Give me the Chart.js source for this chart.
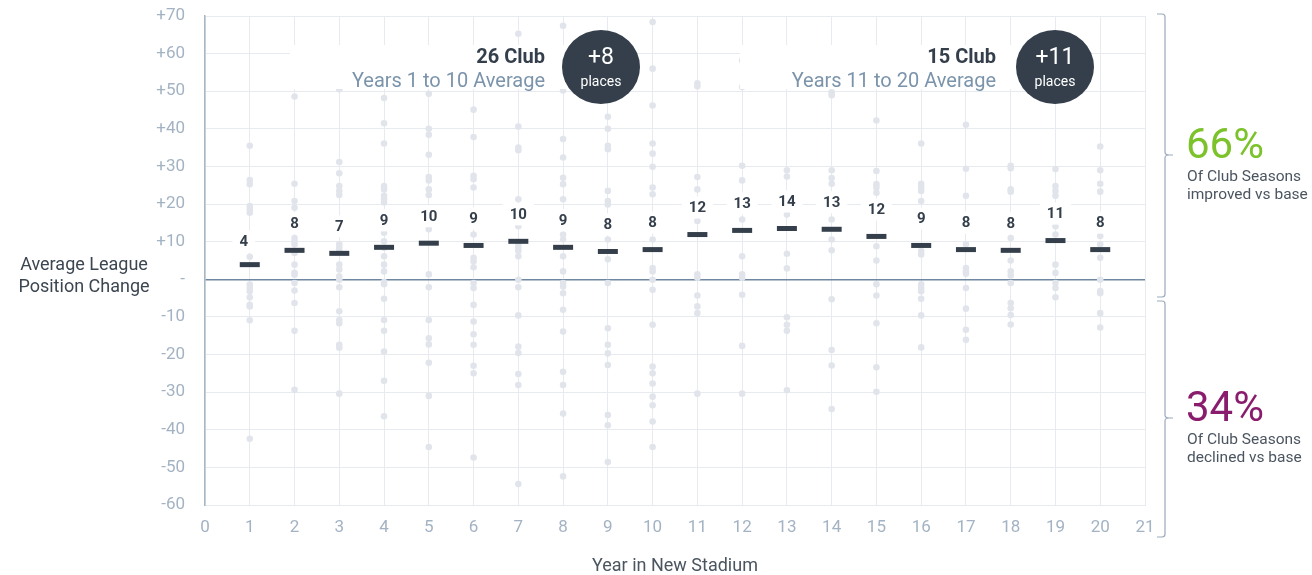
<!DOCTYPE html>
<html lang="en">
<head>
<meta charset="UTF-8">
<title>Average League Position Change</title>
<script src="https://cdn.jsdelivr.net/npm/chart.js"></script>
<style>
  body { margin: 0; background: #fff; }
  #wrap { width: 1312px; height: 575px; }
</style>
</head>
<body>
<div id="wrap"><canvas id="stadiumChart" width="1312" height="575"></canvas></div>
<script>
// league position change per club season, by year in new stadium
const y1 = [35.5, 26.4, 25.3, 19.5, 18.6, 17.7, 6.0, -1.4, -2.3, -3.2, -4.8, -6.8, -7.2, -10.9, -42.4];
const y2 = [48.6, 25.4, 20.8, 19.0, 11.0, 10.1, 9.3, 7.0, 3.9, 1.7, 1.2, -1.0, -3.0, -6.3, -13.7, -29.4];
const y3 = [50.5, 31.2, 28.2, 24.8, 23.5, 22.4, 9.3, 8.4, 7.5, 3.9, 2.6, 0.8, -0.1, -2.1, -8.5, -10.8, -11.7, -17.4, -18.2, -30.4];
const y4 = [48.2, 41.5, 36.1, 24.8, 23.9, 22.2, 21.3, 20.4, 12.4, 10.1, 8.4, 6.1, 3.9, 2.1, -0.7, -1.3, -5.2, -10.8, -13.7, -19.2, -27.0, -36.4];
const y5 = [49.3, 40.0, 38.4, 33.1, 27.2, 26.3, 23.9, 22.4, 13.3, 1.3, -2.1, -10.8, -15.7, -17.3, -22.2, -31.0, -44.6];
const y6 = [45.1, 37.8, 27.5, 26.6, 24.4, 11.9, 5.7, 4.8, 3.2, -1.0, -2.3, -6.8, -11.2, -14.6, -17.4, -23.0, -25.0, -47.4];
const y7 = [65.3, 40.6, 35.0, 34.3, 21.3, 14.1, 9.3, 8.4, 7.5, 6.1, -0.1, -2.1, -9.6, -17.9, -19.6, -25.2, -28.1, -54.4];
const y8 = [67.4, 50.2, 37.3, 32.4, 27.0, 25.3, 21.3, 11.9, 10.6, 6.1, 2.1, -1.0, -1.9, -3.7, -8.1, -13.9, -24.6, -28.1, -35.7, -52.4];
const y9 = [43.2, 40.0, 35.5, 34.6, 23.5, 20.8, 19.9, 10.6, 5.3, -1.0, -13.0, -17.4, -19.7, -22.8, -36.1, -38.8, -48.6];
const y10 = [68.4, 56.0, 46.2, 36.1, 33.4, 29.9, 24.4, 22.6, 10.6, 3.0, 2.1, -0.1, -2.8, -12.1, -23.2, -25.0, -27.7, -31.2, -33.5, -37.8, -44.6];
const y11 = [52.1, 51.3, 27.2, 23.9, 15.5, 1.3, 0.4, -4.3, -7.2, -9.0, -30.4];
const y12 = [58.2, 51.1, 30.2, 26.3, 15.9, 6.1, 1.3, 0.4, -4.1, -17.7, -30.4];
const y13 = [29.0, 27.3, 17.2, 6.8, 2.9, -10.1, -12.1, -13.7, -29.5];
const y14 = [49.7, 48.9, 29.0, 26.9, 25.4, 15.9, 10.6, 7.7, -5.3, -18.8, -22.9, -34.5];
const y15 = [42.2, 28.8, 25.3, 24.4, 23.0, 8.8, 5.0, -1.3, -4.3, -11.7, -23.4, -29.9];
const y16 = [36.1, 25.4, 24.4, 23.5, 20.8, 7.5, 6.6, -1.3, -2.3, -3.2, -5.2, -9.6, -18.1];
const y17 = [41.1, 29.4, 22.2, 9.3, 3.0, 2.1, 1.5, -2.3, -7.8, -13.4, -16.1];
const y18 = [30.2, 29.5, 23.9, 23.3, 11.0, 5.0, 2.1, 1.0, -1.0, -6.3, -7.7, -9.5, -12.0];
const y19 = [29.3, 24.8, 23.5, 22.2, 14.1, 11.9, 3.9, 1.7, -1.0, -2.3, -4.8];
const y20 = [35.3, 29.0, 25.4, 23.3, 11.5, 9.3, 5.7, -0.1, -3.1, -3.7, -9.0, -12.8];
const seasonsByYear = [y1, y2, y3, y4, y5, y6, y7, y8, y9, y10, y11, y12, y13, y14, y15, y16, y17, y18, y19, y20];

const years = [1, 2, 3, 4, 5, 6, 7, 8, 9, 10, 11, 12, 13, 14, 15, 16, 17, 18, 19, 20];
const avgChange = [3.9, 7.7, 6.9, 8.5, 9.6, 9.0, 10.1, 8.5, 7.4, 7.9, 11.9, 13.0, 13.5, 13.3, 11.4, 9.0, 7.9, 7.7, 10.3, 7.9];
const avgLabels = ['4', '8', '7', '9', '10', '9', '10', '9', '8', '8', '12', '13', '14', '13', '12', '9', '8', '8', '11', '8'];

const periodClubs = ['26 Club', '15 Club'];
const periodNames = ['Years 1 to 10 Average', 'Years 11 to 20 Average'];
const periodGain = ['+8', '+11'];
const shareImproved = '66%';
const shareDeclined = '34%';

const FONT = 'Roboto, "Liberation Sans", sans-serif';

const seasonPoints = [];
seasonsByYear.forEach((vals, i) => vals.forEach(v => seasonPoints.push({ x: years[i], y: v })));
const avgPoints = years.map((yr, i) => ({ x: yr, y: avgChange[i] }));

// averages labels with white boxes
const avgLabelPlugin = {
    id: 'avgLabels',
    afterDatasetsDraw(chart) {
        const ctx = chart.ctx;
        const xs = chart.scales.x, ys = chart.scales.y;
        ctx.save();
        ctx.font = 'bold 15px ' + FONT;
        ctx.textAlign = 'center';
        ctx.textBaseline = 'middle';
        years.forEach((yr, i) => {
            const px = xs.getPixelForValue(yr) - (i === 0 ? 6 : 0);
            const py = ys.getPixelForValue(avgChange[i]) - (i === 0 ? 23 : 27);
            const w = ctx.measureText(avgLabels[i]).width + 14;
            ctx.fillStyle = '#fff';
            ctx.fillRect(px - w / 2, py - 11, w, 22);
            ctx.fillStyle = '#343f4b';
            ctx.fillText(avgLabels[i], px, py + 1);
        });
        ctx.restore();
    }
};

// period summaries, y title and right hand brackets
const extrasPlugin = {
    id: 'extras',
    afterDatasetsDraw(chart) {
        const ctx = chart.ctx;
        ctx.save();
        const boxes = [[290, 600, 601], [740, 1050, 1055]];
        const textRight = [545, 996];
        boxes.forEach((b, i) => {
            ctx.fillStyle = '#fff';
            ctx.fillRect(b[0], 45, b[1] - b[0], 44);
            ctx.textAlign = 'right';
            ctx.textBaseline = 'middle';
            ctx.fillStyle = '#343f4b';
            ctx.font = 'bold 20px ' + FONT;
            ctx.fillText(periodClubs[i], textRight[i], 58);
            ctx.fillStyle = '#7b94ab';
            ctx.font = '20px ' + FONT;
            ctx.fillText(periodNames[i], textRight[i], 82);
            ctx.fillStyle = '#343f4b';
            ctx.beginPath();
            ctx.ellipse(b[2], 67, 39, 37, 0, 0, Math.PI * 2);
            ctx.fill();
            ctx.fillStyle = '#fff';
            ctx.textAlign = 'center';
            ctx.font = '23px ' + FONT;
            ctx.fillText(periodGain[i], b[2], 58);
            ctx.font = '14px ' + FONT;
            ctx.fillText('places', b[2], 82);
        });
        ctx.restore();
    },
    afterDraw(chart) {
        const ctx = chart.ctx;
        ctx.save();
        ctx.fillStyle = '#3c4650';
        ctx.font = '18px ' + FONT;
        ctx.textAlign = 'center';
        ctx.textBaseline = 'middle';
        ctx.fillText('Average League', 84, 265);
        ctx.fillText('Position Change', 84, 287);

        ctx.strokeStyle = '#9aabbc';
        ctx.lineWidth = 1.2;
        const bracket = (top, mid, bottom) => {
            ctx.beginPath();
            ctx.moveTo(1157, top);
            ctx.lineTo(1162, top);
            ctx.quadraticCurveTo(1165, top, 1165, top + 3);
            ctx.lineTo(1165, mid - 3);
            ctx.quadraticCurveTo(1165, mid, 1169, mid);
            ctx.lineTo(1173, mid);
            ctx.moveTo(1169, mid);
            ctx.quadraticCurveTo(1165, mid, 1165, mid + 3);
            ctx.lineTo(1165, bottom - 3);
            ctx.quadraticCurveTo(1165, bottom, 1162, bottom);
            ctx.lineTo(1157, bottom);
            ctx.stroke();
        };
        bracket(14, 155, 297);
        bracket(301, 418, 537);

        ctx.textAlign = 'left';
        ctx.textBaseline = 'alphabetic';
        ctx.font = '42px ' + FONT;
        ctx.fillStyle = '#7cc22a';
        ctx.fillText(shareImproved, 1186, 158);
        ctx.fillStyle = '#8a1c6e';
        ctx.fillText(shareDeclined, 1186, 421);
        ctx.font = '15.5px ' + FONT;
        ctx.fillStyle = '#4b5560';
        ctx.fillText('Of Club Seasons', 1187, 181);
        ctx.fillText('improved vs base', 1187, 199);
        ctx.fillText('Of Club Seasons', 1187, 444);
        ctx.fillText('declined vs base', 1187, 462);
        ctx.restore();
    }
};

const ctx = document.getElementById('stadiumChart').getContext('2d');
new Chart(ctx, {
    type: 'scatter',
    data: {
        datasets: [
            {
                label: 'Season',
                data: seasonPoints,
                pointRadius: 3.3,
                pointBackgroundColor: '#e1e5eb',
                pointBorderWidth: 0,
                order: 2
            },
            {
                label: 'Average',
                data: avgPoints,
                pointStyle: 'line',
                pointRadius: 10,
                pointBorderColor: '#343f4b',
                pointBorderWidth: 5,
                order: 1
            }
        ]
    },
    options: {
        responsive: false,
        animation: false,
        layout: { padding: { left: 0, top: 16, right: 167, bottom: 0 } },
        plugins: { legend: { display: false }, tooltip: { enabled: false } },
        scales: {
            x: {
                type: 'linear',
                min: 0,
                max: 21,
                afterFit: s => { s.height = 70; },
                ticks: { stepSize: 1, color: '#a3b3c3', font: { family: FONT, size: 17 }, padding: 13 },
                grid: { color: '#e7ebf0', drawTicks: false },
                border: { color: '#e7ebf0' },
                title: {
                    display: true,
                    text: 'Year in New Stadium',
                    color: '#4a5560',
                    font: { family: FONT, size: 18 },
                    padding: { top: 0, bottom: -2 }
                }
            },
            y: {
                min: -60,
                max: 70,
                afterFit: s => { s.width = 205; },
                ticks: {
                    stepSize: 10,
                    color: '#a3b3c3',
                    font: { family: FONT, size: 17 },
                    padding: 0,
                    callback: v => v > 0 ? '+' + v : (v === 0 ? '-' : String(v))
                },
                grid: {
                    drawTicks: true,
                    tickLength: 20,
                    tickColor: 'rgba(0,0,0,0)',
                    color: c => c.tick && c.tick.value === 0 ? '#6f87a0' : '#e7ebf0',
                    lineWidth: c => c.tick && c.tick.value === 0 ? 1.5 : 1
                },
                border: { color: '#a8b5c2', width: 1.5 }
            }
        }
    },
    plugins: [avgLabelPlugin, extrasPlugin]
});
</script>
</body>
</html>
